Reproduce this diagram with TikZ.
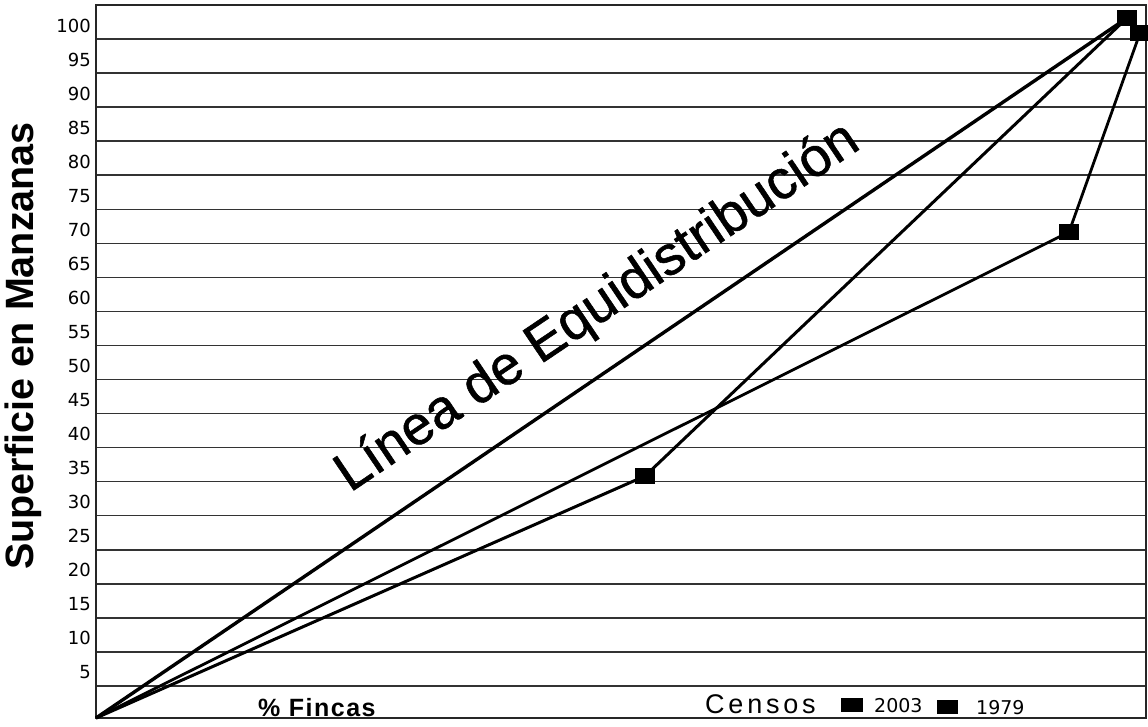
\documentclass[tikz,border=0pt]{standalone}
\usepackage{fontspec}
\setmainfont{Liberation Sans}
\newfontfamily\numfont{DejaVu Sans}
\begin{document}
\begin{tikzpicture}[x=1pt,y=-1pt,
  gridline/.style={line width=1.5pt, black!80},
  frame/.style={line width=2pt, black!85},
  curve/.style={line width=3pt, line join=round},
  equi/.style={line width=3.4pt},
  marker/.style={fill=black, draw=none, minimum width=20pt, minimum height=16pt, inner sep=0pt, outer sep=0pt},
  legmark/.style={fill=black, draw=none, minimum width=22pt, minimum height=14pt, inner sep=0pt},
  ticklab/.style={anchor=east, font=\numfont\fontsize{18}{18}\selectfont, inner sep=0pt}]
\useasboundingbox (0,0) rectangle (1148,726);
\fill[white] (0,0) rectangle (1148,726);
% grid and tick labels
\foreach \k in {0,...,19} {
  \pgfmathsetmacro\yy{39+34.05*\k}
  \pgfmathtruncatemacro\lab{100-5*\k}
  \draw[gridline] (96,\yy) -- (1146,\yy);
  \node[ticklab] (t\k) at (91,\yy-13.5) {\lab};
}
\draw[frame] (96,718) -- (96,5) -- (1146,5) -- (1146,718) -- cycle;
% axis titles
\node[rotate=90, anchor=base, inner sep=0pt, font=\fontsize{39.5}{39.5}\selectfont\bfseries] (ylab) at (33,346) {Superficie en Manzanas};
\node[anchor=base west, inner sep=0pt, font=\fontsize{25}{25}\selectfont\bfseries\addfontfeature{LetterSpace=6}] (xlab) at (258,716) {\% Fincas};
\node[rotate=34, anchor=base west, inner sep=0pt, font=\fontsize{55}{55}\selectfont\addfontfeature{FakeBold=1}] (equilab) at (350,493) {Línea de Equidistribución};
% data points
\coordinate (O) at (96,718);
\node[marker] (pTop) at (1127,18) {};
\node[marker] (pA) at (645,476) {};
\node[marker] (pB) at (1069,232) {};
\node[marker] (pB2) at (1140,33) {};
% lines
\draw[equi] (O) -- (pTop.center);
\draw[curve] (O) -- (pA.center) -- (pTop.center);
\draw[curve, line width=2.8pt] (O) -- (pB.center) -- (pB2.center);
% redraw markers on top
\fill (pTop.south west) rectangle (pTop.north east);
\fill (pA.south west) rectangle (pA.north east);
\fill (pB.south west) rectangle (pB.north east);
\fill (pB2.south west) rectangle (pB2.north east);
% legend
\node[anchor=base west, inner sep=0pt, font=\fontsize{27}{27}\selectfont\addfontfeature{LetterSpace=14}] (censos) at (705,713) {Censos};
\node[legmark] (m2003) at (851.5,705) {};
\node[anchor=base west, inner sep=0pt, font=\numfont\fontsize{19}{19}\selectfont] (l2003) at (874,712) {2003};
\node[legmark, minimum width=21pt] (m1979) at (947.5,707) {};
\node[anchor=base west, inner sep=0pt, font=\numfont\fontsize{19}{19}\selectfont] (l1979) at (976,714) {1979};
\end{tikzpicture}
\end{document}
